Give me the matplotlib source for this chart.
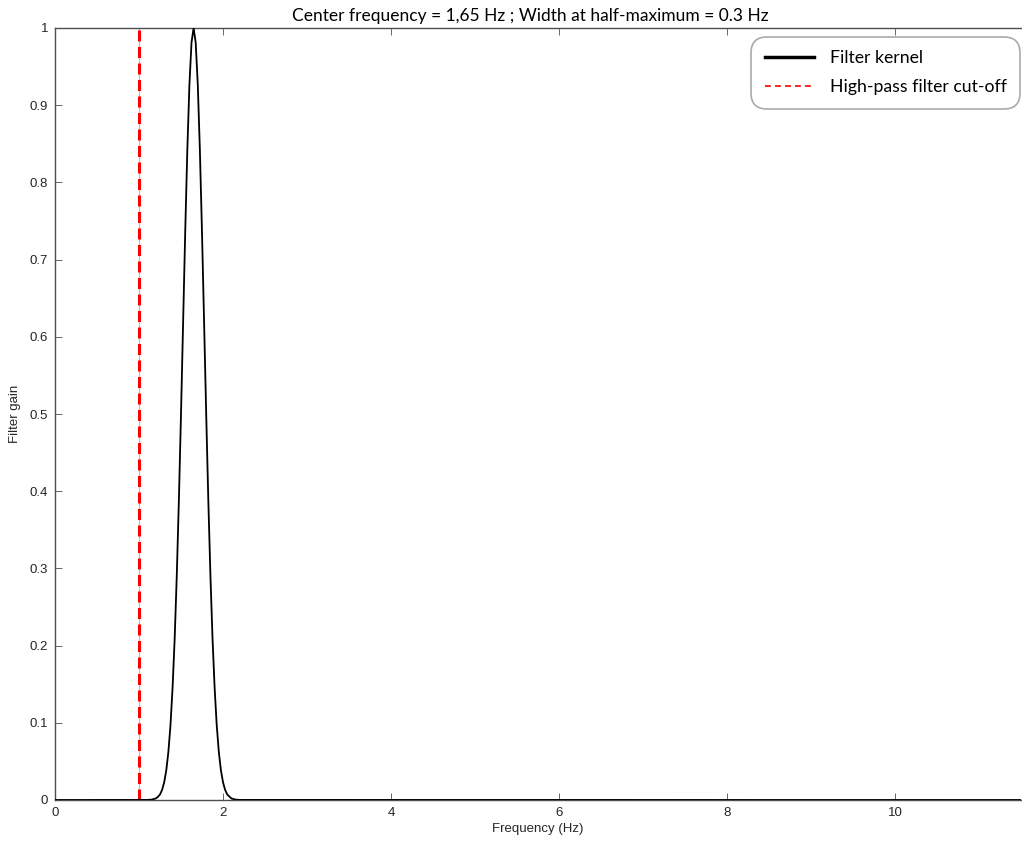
import matplotlib

matplotlib.use("Agg")
import matplotlib.pyplot as plt
from matplotlib.lines import Line2D

# filter kernel (Hz, gain)
freq = [0.0, 1.10, 1.15, 1.20, 1.225, 1.25, 1.275, 1.30, 1.325, 1.35, 1.375,
        1.40, 1.425, 1.45, 1.475, 1.50, 1.525, 1.55, 1.575, 1.60, 1.625, 1.65,
        1.675, 1.70, 1.725, 1.75, 1.775, 1.80, 1.825, 1.85, 1.875, 1.90, 1.925,
        1.95, 1.975, 2.00, 2.025, 2.05, 2.10, 2.15, 2.20, 11.5]
gain = [0.0, 0.0001, 0.0005, 0.002, 0.0040, 0.0072, 0.0131, 0.023, 0.0386, 0.0625, 0.0973,
        0.146, 0.210, 0.292, 0.389, 0.500, 0.618, 0.735, 0.841, 0.926, 0.981, 1.0,
        0.981, 0.926, 0.841, 0.735, 0.618, 0.500, 0.389, 0.292, 0.210, 0.146, 0.0973,
        0.0625, 0.0386, 0.023, 0.0131, 0.0072, 0.002, 0.0005, 0.0001, 0.0]
cutoff = 1.0
title = "Center frequency = 1,65 Hz ; Width at half-maximum = 0.3 Hz"
yticks = [0, 0.1, 0.2, 0.3, 0.4, 0.5, 0.6, 0.7, 0.8, 0.9, 1]
ytick_labels = ["0", "0.1", "0.2", "0.3", "0.4", "0.5", "0.6", "0.7", "0.8", "0.9", "1"]
xticks = [0, 2, 4, 6, 8, 10]

W, H = 1022, 843
fig = plt.figure(figsize=(W / 100, H / 100), dpi=100)
ax = fig.add_axes([55 / W, 1 - 800 / H, (1021 - 55) / W, (800 - 28) / H])

axcol = "#4d4d4d"
ax.axvline(cutoff, color="#ff9999", lw=0.8, zorder=1)
ax.axvline(cutoff, color="red", lw=2.2, dashes=(3.6, 1.8), zorder=2)
ax.plot(freq, gain, color="black", lw=1.3, zorder=3)

ax.set_xlim(0, 11.5)
ax.set_ylim(0, 1)
ax.set_xticks(xticks)
ax.set_xticklabels([str(t) for t in xticks], fontsize=9.5, family="Liberation Sans", color="#262626")
ax.set_yticks(yticks)
ax.set_yticklabels(ytick_labels, fontsize=9.5, family="Liberation Sans", color="#262626")
ax.tick_params(direction="in", length=5, width=0.6, color=axcol, top=True, right=False, pad=5)
for side in ("left", "bottom", "top"):
    ax.spines[side].set_color(axcol)
    ax.spines[side].set_linewidth(1.0)
ax.spines["right"].set_visible(False)

ax.set_xlabel("Frequency (Hz)", fontsize=9.5, family="Liberation Sans", color="#262626", labelpad=3)
ax.set_ylabel("Filter gain", fontsize=9.5, family="Liberation Sans", color="#262626", labelpad=6)
fig.text(530 / W, 1 - 16 / H, title, ha="center", va="center", fontsize=12.5, family="Lato")

handles = [
    Line2D([], [], color="black", lw=2.5),
    Line2D([], [], color="red", lw=1.2, dashes=(3.5, 2.5)),
]
leg = ax.legend(handles, ["Filter kernel", "High-pass filter cut-off"],
                loc="upper right", bbox_to_anchor=(1020 / W, 1 - 37 / H),
                bbox_transform=fig.transFigure, borderaxespad=0, fancybox=True, framealpha=1,
                edgecolor="#aaaaaa", handlelength=2.8, handletextpad=0.9,
                borderpad=0.75, labelspacing=0.75, prop={"family": "Lato", "size": 12.7})
leg.get_frame().set_linewidth(1.2)
leg.get_frame().set_boxstyle("round", pad=0.0, rounding_size=0.9)

fig.savefig("out.png", dpi=100)
